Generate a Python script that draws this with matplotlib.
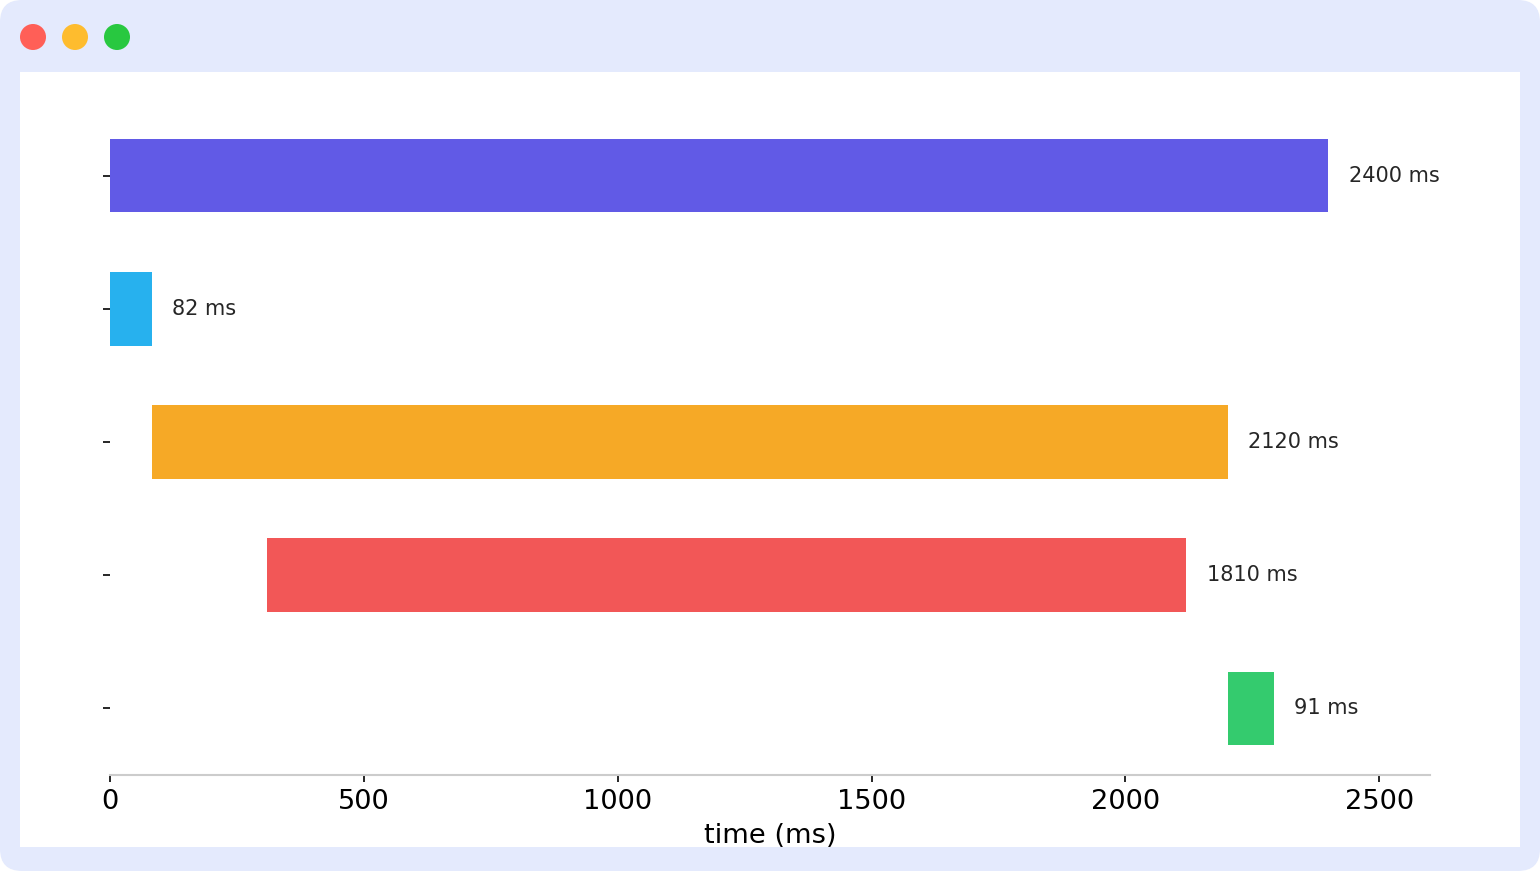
import matplotlib
matplotlib.use('Agg')
import matplotlib.pyplot as plt
from matplotlib.patches import Circle, FancyBboxPatch, Rectangle
from matplotlib.transforms import Bbox

# bars of the timeline
starts = [0, 0, 82, 310, 2202]
durations = [2400, 82, 2120, 1810, 91]
colors = ['#615ae6', '#27b1ee', '#f6a926', '#f25757', '#34cb6e']
xticks = [0, 500, 1000, 1500, 2000, 2500]

W, H = 1540, 871
fig = plt.figure(figsize=(W / 100, H / 100), dpi=100, facecolor='white')

# window frame, drawn in pixel coordinates
bg = fig.add_axes([0, 0, 1, 1], zorder=-1)
bg.set_xlim(0, W); bg.set_ylim(H, 0); bg.axis('off')
bg.add_patch(FancyBboxPatch((22, 22), W - 44, H - 44, boxstyle='round,pad=22,rounding_size=22',
                            fc='#e4eafd', ec='none'))
bg.add_patch(Rectangle((20, 72), 1500, 775, fc='white', ec='none'))
for cx, c in zip([33, 75, 117], ['#ff5f57', '#febc2e', '#28c840']):
    bg.add_patch(Circle((cx, 37), 13, fc=c, ec='none'))

# plot area
left, right, top, bottom = 110, 1430, 109, 775
ax = fig.add_axes([left / W, 1 - bottom / H, (right - left) / W, (bottom - top) / H])
ax.patch.set_alpha(0)
y = list(range(len(starts)))
ax.barh(y, durations, left=starts, height=0.553, color=colors)
for i, (s, d) in enumerate(zip(starts, durations)):
    ax.text(s + d + 40, i, f'{d} ms', va='center', ha='left', fontsize=15, color='#262626')

ax.set_xlim(0, 2600)
ax.set_ylim(len(starts) - 0.5, -0.5)
ax.set_xticks(xticks)
ax.set_yticks(y)
ax.set_yticklabels([])
ax.tick_params(axis='x', labelsize=19.6, length=5, width=1.4, color='#262626', pad=5)
ax.tick_params(axis='y', length=5, width=1.4, color='#262626')
for side in ['top', 'right', 'left']:
    ax.spines[side].set_visible(False)
ax.spines['bottom'].set_color('#cccccc')
ax.spines['bottom'].set_linewidth(1.5)

# label runs into the bottom edge of the window and is cut there
label = ax.set_xlabel('time (ms)', fontsize=19.6, labelpad=6)
label.set_clip_on(True)
label.set_clip_box(Bbox([[0, H - 847], [W, H]]))

fig.savefig('out.png', dpi=100)
